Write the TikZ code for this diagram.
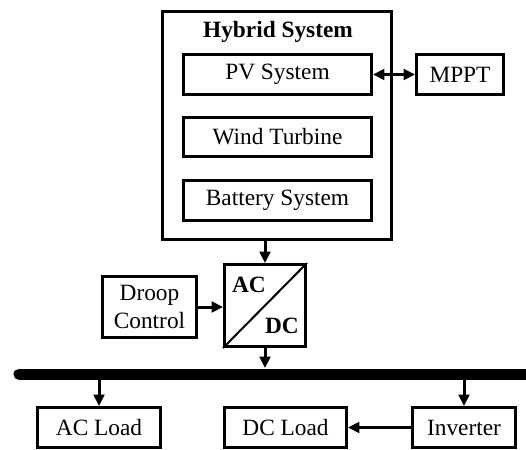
\documentclass[tikz,border=0pt]{standalone}
\usepackage{fontspec}
\setmainfont{Liberation Serif}
\usetikzlibrary{arrows.meta,calc}
\tikzset{
  blk/.style={draw, line width=2.25pt, rectangle, inner sep=0pt, align=center,
    font=\fontsize{17.5}{21}\selectfont},
  tip/.style={Triangle[length=8.5pt,width=8pt]},
  arr/.style={line width=2.25pt, -{Triangle[length=8.5pt,width=8pt]}},
  darr/.style={line width=2.25pt, {Triangle[length=8.5pt,width=8pt]}-{Triangle[length=8.5pt,width=8pt]}},
  lbl/.style={inner sep=0pt, font=\fontsize{17.5}{21}\selectfont\bfseries}
}
\begin{document}
\begin{tikzpicture}[x=0.75pt,y=-0.75pt]
\useasboundingbox (0,0) rectangle (526,450);
% hybrid system
\node[blk, minimum width=229*0.75pt, minimum height=228*0.75pt] (hyb) at (277,125.5) {};
\node[lbl] (title) at (278,32) {Hybrid System};
\node[blk, minimum width=188*0.75pt, minimum height=40*0.75pt] (pv) at (277.5,74.5) {PV System};
\node[blk, minimum width=188*0.75pt, minimum height=39*0.75pt] (wind) at (277.5,137) {Wind Turbine};
\node[blk, minimum width=188*0.75pt, minimum height=40*0.75pt] (bat) at (277.5,200.5) {Battery System};
\node[blk, minimum width=87*0.75pt, minimum height=40*0.75pt] (mppt) at (460,74.5) {MPPT};
% converter
\node[blk, minimum width=81*0.75pt, minimum height=82*0.75pt] (conv) at (265,305.5) {};
\draw[line width=1.5pt] (conv.south west) -- (conv.north east);
\node[lbl] (ac) at (249,285) {AC};
\node[lbl] (dc) at (282,326) {DC};
% droop
\node[blk, minimum width=94*0.75pt, minimum height=61*0.75pt] (droop) at (149.5,307) {Droop\\Control};
% bus
\coordinate (busL) at (19,374);
\coordinate (busR) at (534,374);
\coordinate (bustop) at (0,368);
\coordinate (busbot) at (0,380);
\draw[line width=8.25pt, line cap=round] (busL) -- (busR);
% loads
\node[blk, minimum width=123*0.75pt, minimum height=40*0.75pt] (acl) at (99,427.5) {AC Load};
\node[blk, minimum width=122*0.75pt, minimum height=40*0.75pt] (dcl) at (285.5,427.5) {DC Load};
\node[blk, minimum width=103*0.75pt, minimum height=40*0.75pt] (inv) at (464,427.5) {Inverter};
% connectors
\draw[darr] (pv.east) -- (mppt.west);
\draw[arr] (hyb.south -| conv.north) -- (conv.north);
\draw[arr] (droop.east) -- (droop.east -| conv.west);
\draw[arr] (conv.south) -- (conv.south |- bustop);
\draw[arr] (acl.north |- busbot) -- (acl.north);
\draw[arr] (inv.north |- busbot) -- (inv.north);
\draw[arr] (inv.west) -- (dcl.east);
\end{tikzpicture}
\end{document}
